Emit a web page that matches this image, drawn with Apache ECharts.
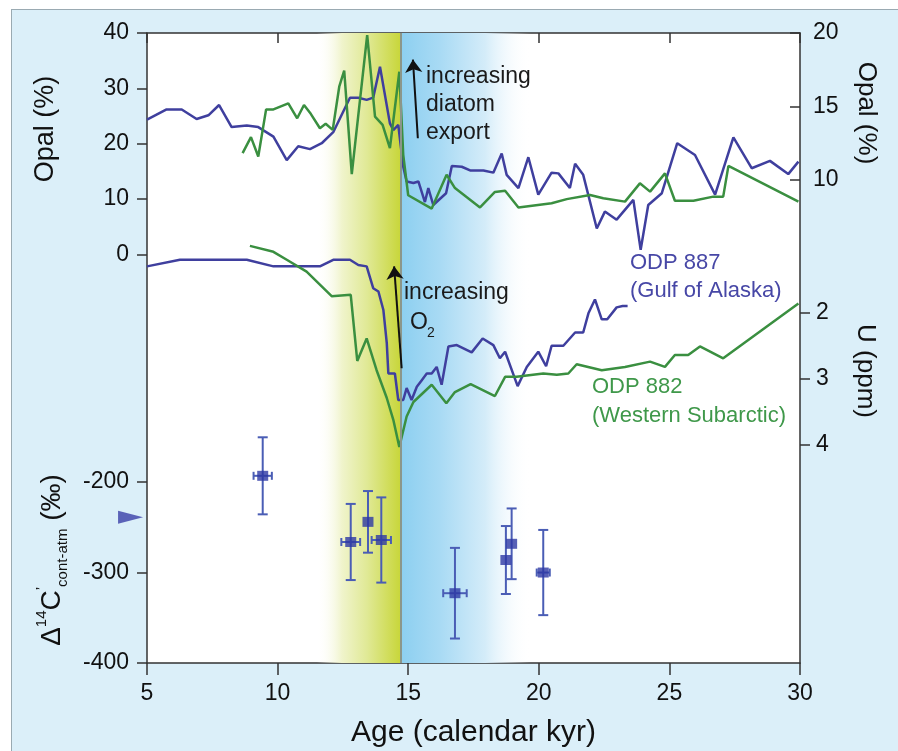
<!DOCTYPE html>
<html>
<head>
<meta charset="utf-8">
<script src="https://cdn.jsdelivr.net/npm/echarts@6/dist/echarts.min.js"></script>
<style>
  body { margin: 0; background: #fff; }
  #wrap { position: relative; width: 898px; height: 751px; overflow: hidden; }
  #bg { position: absolute; left: 11px; top: 9px; width: 900px; height: 760px; background: #dbeff9; border: 1px solid #9aaab2; }
  #chart { position: absolute; left: 0; top: 0; width: 898px; height: 751px; }
</style>
</head>
<body>
<div id="wrap"><div id="bg"></div><div id="chart"></div></div>
<script>
// opal records, [age kyr, opal %]
var opal887 = [[5.0,14.1],[5.75,14.8],[6.33,14.8],[6.9,14.15],[7.35,14.4],[7.76,15.1],[8.24,13.6],[8.82,13.7],[9.26,13.6],[9.84,12.95],[10.35,11.35],[10.79,12.3],[11.24,12.1],[11.69,12.5],[12.13,13.25],[12.77,15.6],[13.09,15.6],[13.41,15.45],[13.66,15.6],[13.92,17.7],[14.3,13.85],[14.43,13.4],[14.62,13.75],[14.81,10.9],[14.94,9.9],[15.2,9.8],[15.39,9.9],[15.64,8.5],[15.77,9.45],[15.96,8.3],[16.45,9.1],[16.67,10.95],[17.05,10.9],[17.37,10.65],[17.88,10.65],[18.26,10.5],[18.58,11.8],[18.77,10.35],[19.22,9.45],[19.6,11.55],[19.98,9.0],[20.49,10.5],[20.75,10.45],[21.19,9.45],[21.39,11.1],[21.7,10.35],[22.22,6.7],[22.53,7.85],[22.98,7.3],[23.62,8.65],[23.9,5.25],[24.19,8.3],[24.71,9.1],[25.3,12.5],[25.98,11.7],[26.75,9.0],[27.45,12.9],[28.15,10.8],[28.85,11.3],[29.55,10.4],[29.94,11.25]];
var opal882 = [[8.66,18.3],[8.98,21.2],[9.26,17.7],[9.56,26.2],[9.84,26.2],[10.41,27.3],[10.75,24.6],[11.01,27.0],[11.27,25.4],[11.62,22.8],[11.84,23.6],[12.11,22.5],[12.36,30.3],[12.55,33.2],[12.84,14.5],[13.43,39.6],[13.73,24.9],[14.02,23.4],[14.3,19.2],[14.66,33.0],[14.81,18.0],[15.0,10.7],[15.9,8.3],[16.47,14.4],[16.79,12.0],[17.75,8.5],[18.32,11.3],[18.71,11.5],[19.22,8.5],[20.49,9.25],[21.07,10.0],[21.96,10.75],[22.47,10.15],[23.3,9.55],[23.87,12.85],[24.26,11.35],[24.83,14.65],[25.21,9.7],[25.92,9.7],[26.68,10.45],[27.06,10.45],[27.26,16.0],[29.94,9.55]];

// uranium records, [age kyr, U ppm]
var u887 = [[5.0,1.3],[6.26,1.2],[8.82,1.2],[9.84,1.3],[11.62,1.3],[12.13,1.2],[12.77,1.2],[13.09,1.28],[13.41,1.3],[13.66,1.63],[13.86,1.68],[14.05,1.96],[14.18,2.46],[14.24,2.92],[14.49,2.92],[14.62,3.32],[14.81,3.32],[14.94,3.14],[15.13,3.32],[15.33,3.12],[15.52,3.02],[15.71,2.92],[15.9,2.92],[16.09,2.82],[16.28,3.09],[16.54,2.51],[16.86,2.49],[17.43,2.6],[17.85,2.39],[18.26,2.49],[18.51,2.69],[18.71,2.59],[19.19,3.11],[19.54,2.82],[19.98,2.59],[20.28,2.81],[20.49,2.5],[20.94,2.5],[21.39,2.3],[21.7,2.3],[21.9,2.01],[22.15,1.8],[22.41,2.1],[22.62,2.1],[22.98,1.92],[23.21,1.9],[23.4,1.9]];
var u882 = [[8.94,0.99],[9.84,1.08],[10.35,1.2],[11.11,1.38],[12.07,1.75],[12.8,1.73],[13.05,2.73],[13.41,2.39],[13.79,2.87],[14.18,3.29],[14.43,3.62],[14.66,4.03],[14.94,3.57],[15.2,3.35],[15.9,3.09],[16.46,3.37],[16.79,3.2],[17.39,3.08],[18.32,3.26],[18.71,2.97],[19.15,2.97],[20.17,2.92],[20.69,2.94],[21.13,2.92],[21.45,2.78],[22.41,2.87],[23.3,2.82],[24.26,2.74],[24.83,2.82],[25.21,2.64],[25.72,2.64],[26.17,2.51],[27.06,2.69],[29.94,1.86]];

// D14C cont-atm points
var d14cAge    = [9.43, 12.8, 13.46, 13.97, 16.79, 18.74, 18.96, 20.17];
var d14cVal    = [-193.5, -266.5, -244.3, -264.3, -323, -286.4, -268.5, -300.2];
var d14cAgeErr = [0.35, 0.36, 0, 0.37, 0.45, 0, 0, 0.25];
var d14cValErr = [42.5, 42, 34, 47, 50, 37.5, 39, 47];
var d14cRef = [[4.37, -239.3]];

// tick labels
var ageTicks = [5, 10, 15, 20, 25, 30];
var opalLeftTicks = [0, 10, 20, 30, 40];
var d14cTicks = [-400, -300, -200];
var opalRightTicks = [10, 15, 20];
var uTicks = [2, 3, 4];

// shaded intervals
var yellowBand = [11.5, 14.7];
var blueBand = [14.7, 19.7];

var FONT = '"Liberation Sans", Arial, sans-serif';
var BLUE = '#3f3f9e', GREEN = '#3a8f40', AXIS = '#333';

var d14cData = d14cAge.map(function (a, i) {
    return [a, d14cVal[i], d14cAgeErr[i], d14cValErr[i]];
});

function yAx(o) {
    var base = {
        type: 'value', gridIndex: 0, splitLine: { show: false },
        axisLine: { show: false, onZero: false, lineStyle: { color: AXIS, width: 1.5 } },
        axisTick: { show: true, length: 10, lineStyle: { color: AXIS, width: 1.5 } },
        axisLabel: { fontSize: 23, color: '#111', fontFamily: FONT }
    };
    o.axisTick = Object.assign({}, base.axisTick, o.axisTick || {});
    o.axisLabel = Object.assign({}, base.axisLabel, o.axisLabel || {});
    o.axisLine = Object.assign({}, base.axisLine, o.axisLine || {});
    return Object.assign(base, o);
}

function txt(o) {
    o.z = 100;
    o.silent = true;
    return o;
}

var arrowLine = {
    silent: true, symbol: ['none', 'arrow'], symbolSize: 13, label: { show: false },
    lineStyle: { color: '#111', width: 2, type: 'solid' },
    itemStyle: { color: '#111' }
};

var chart = echarts.init(document.getElementById('chart'));
var option = {
    animation: false,
    grid: { left: 147, top: 33, width: 653, height: 630, show: true, backgroundColor: '#fff', borderWidth: 0,
        containLabel: false, outerBoundsMode: 'none' },
    xAxis: [{
        type: 'value', min: 5, max: 30, interval: 5, position: 'bottom',
        axisLine: { onZero: false, lineStyle: { color: AXIS, width: 1.5 } },
        axisTick: { length: 12, lineStyle: { color: AXIS, width: 1.5 } },
        axisLabel: { fontSize: 23, color: '#111', margin: 19, fontFamily: FONT,
            customValues: ageTicks },
        splitLine: { show: false },
        name: 'Age (calendar kyr)', nameLocation: 'middle', nameGap: 55,
        nameTextStyle: { fontSize: 30, color: '#111', fontFamily: FONT }
    }, {
        type: 'value', min: 5, max: 30, interval: 5, position: 'top',
        axisLine: { onZero: false, lineStyle: { color: AXIS, width: 1.5 } },
        axisTick: { inside: true, length: 10, lineStyle: { color: AXIS, width: 1.5 } },
        axisLabel: { show: false }, splitLine: { show: false }
    }],
    yAxis: [
        yAx({ min: -73.77, max: 40, position: 'left', axisLine: { show: true },
            axisTick: { customValues: opalLeftTicks }, axisLabel: { customValues: opalLeftTicks, margin: 18 } }),
        yAx({ min: -400, max: 295, position: 'left',
            axisTick: { customValues: d14cTicks }, axisLabel: { customValues: d14cTicks, margin: 18 } }),
        yAx({ min: -22.86, max: 20, position: 'right', axisLine: { show: true },
            axisTick: { inside: true, customValues: opalRightTicks }, axisLabel: { customValues: opalRightTicks, margin: 13 } }),
        yAx({ min: -2.228, max: 7.296, inverse: true, position: 'right',
            axisTick: { customValues: uTicks }, axisLabel: { customValues: uTicks, margin: 16 } })
    ],
    series: [{
        // shading bands
        type: 'line', yAxisIndex: 0, data: [], z: 1, silent: true,
        markArea: {
            silent: true,
            data: [
                [{ xAxis: yellowBand[0], itemStyle: { color: new echarts.graphic.LinearGradient(0, 0, 1, 0, [
                    { offset: 0, color: 'rgba(255,255,255,0)' },
                    { offset: 0.3, color: '#f0f4cc' },
                    { offset: 0.6, color: '#e0e996' },
                    { offset: 1, color: '#c8d63a' }]) } }, { xAxis: yellowBand[1] }],
                [{ xAxis: blueBand[0], itemStyle: { color: new echarts.graphic.LinearGradient(0, 0, 1, 0, [
                    { offset: 0, color: '#8ccff0' },
                    { offset: 0.3, color: '#a8daf4' },
                    { offset: 0.65, color: '#d4ecf9' },
                    { offset: 1, color: 'rgba(255,255,255,0)' }]) } }, { xAxis: blueBand[1] }]
            ]
        },
        markLine: {
            silent: true, symbol: 'none', label: { show: false },
            lineStyle: { color: '#8b968a', width: 2, type: 'solid' },
            data: [{ xAxis: yellowBand[1] }]
        }
    }, {
        name: 'ODP 887 opal', type: 'line', yAxisIndex: 2, data: opal887, z: 3,
        showSymbol: false, lineStyle: { color: BLUE, width: 2.5 }, itemStyle: { color: BLUE }
    }, {
        name: 'ODP 882 opal', type: 'line', yAxisIndex: 0, data: opal882, z: 3,
        showSymbol: false, lineStyle: { color: GREEN, width: 2.5 }, itemStyle: { color: GREEN },
        markLine: Object.assign({}, arrowLine, {
            data: [[{ coord: [15.37, 21.0] }, { coord: [15.18, 35.2] }]]
        })
    }, {
        name: 'ODP 887 U', type: 'line', yAxisIndex: 3, data: u887, z: 3,
        showSymbol: false, lineStyle: { color: BLUE, width: 2.5 }, itemStyle: { color: BLUE }
    }, {
        name: 'ODP 882 U', type: 'line', yAxisIndex: 3, data: u882, z: 3,
        showSymbol: false, lineStyle: { color: GREEN, width: 2.5 }, itemStyle: { color: GREEN },
        markLine: Object.assign({}, arrowLine, {
            data: [[{ coord: [14.75, 2.84] }, { coord: [14.46, 1.3] }]]
        })
    }, {
        // error bars
        type: 'custom', yAxisIndex: 1, data: d14cData, z: 4,
        encode: { x: 0, y: 1 },
        renderItem: function (params, api) {
            var x = api.value(0), y = api.value(1), xe = api.value(2), ye = api.value(3);
            var top = api.coord([x, y + ye]), bot = api.coord([x, y - ye]);
            var st = { stroke: '#4a5db5', lineWidth: 2 };
            var kids = [
                { type: 'line', shape: { x1: top[0], y1: top[1], x2: bot[0], y2: bot[1] }, style: st },
                { type: 'line', shape: { x1: top[0] - 5, y1: top[1], x2: top[0] + 5, y2: top[1] }, style: st },
                { type: 'line', shape: { x1: bot[0] - 5, y1: bot[1], x2: bot[0] + 5, y2: bot[1] }, style: st }
            ];
            if (xe > 0) {
                var l = api.coord([x - xe, y]), r = api.coord([x + xe, y]);
                kids.push({ type: 'line', shape: { x1: l[0], y1: l[1], x2: r[0], y2: r[1] }, style: st });
                kids.push({ type: 'line', shape: { x1: l[0], y1: l[1] - 4, x2: l[0], y2: l[1] + 4 }, style: st });
                kids.push({ type: 'line', shape: { x1: r[0], y1: r[1] - 4, x2: r[0], y2: r[1] + 4 }, style: st });
            }
            return { type: 'group', children: kids };
        }
    }, {
        type: 'scatter', yAxisIndex: 1, data: d14cData, z: 5,
        symbol: 'rect', symbolSize: [11, 10], itemStyle: { color: '#2d38a4' }
    }, {
        // modern reference marker, left of the axis
        type: 'scatter', yAxisIndex: 1, data: d14cRef, clip: false, z: 5,
        symbol: 'triangle', symbolRotate: -90, symbolSize: [13, 25], itemStyle: { color: '#3a3fa8' }
    }],
    graphic: [
        txt({ type: 'text', left: 426, top: 63, style: { text: 'increasing\ndiatom\nexport', font: '23px ' + FONT, fill: '#1a1a1a', lineHeight: 28 } }),
        txt({ type: 'text', x: 404, y: 293, style: { text: 'increasing', font: '23px ' + FONT, fill: '#1a1a1a', verticalAlign: 'middle' } }),
        txt({ type: 'text', x: 410, y: 323, style: { text: 'O', font: '23px ' + FONT, fill: '#1a1a1a', verticalAlign: 'middle' } }),
        txt({ type: 'text', x: 427, y: 333, style: { text: '2', font: '14px ' + FONT, fill: '#1a1a1a', verticalAlign: 'middle' } }),
        txt({ type: 'text', x: 630, y: 277, style: { text: 'ODP 887\n(Gulf of Alaska)', font: '22px ' + FONT, fill: '#4747a6', lineHeight: 28, verticalAlign: 'middle' } }),
        txt({ type: 'text', x: 592, y: 401, style: { text: 'ODP 882\n(Western Subarctic)', font: '22px ' + FONT, fill: '#3f984a', lineHeight: 29, verticalAlign: 'middle' } }),
        txt({ type: 'text', x: 46, y: 129, rotation: Math.PI / 2, style: { text: 'Opal (%)', font: '27px ' + FONT, fill: '#111', align: 'center', verticalAlign: 'middle' } }),
        txt({ type: 'text', x: 866, y: 113, rotation: -Math.PI / 2, style: { text: 'Opal (%)', font: '26px ' + FONT, fill: '#111', align: 'center', verticalAlign: 'middle' } }),
        txt({ type: 'text', x: 865, y: 371, rotation: -Math.PI / 2, style: { text: 'U (ppm)', font: '26px ' + FONT, fill: '#111', align: 'center', verticalAlign: 'middle' } }),
        txt({ type: 'text', x: 52, y: 560, rotation: Math.PI / 2, style: {
            text: '{m|\u0394}{sup|14}{m|C}{sup|\u2019}{sub|cont-atm}{m| (\u2030)}',
            align: 'center', verticalAlign: 'middle', fill: '#111',
            rich: {
                m: { fontSize: 28, fontFamily: FONT, fill: '#111', lineHeight: 36 },
                sup: { fontSize: 15, fontFamily: FONT, fill: '#111', verticalAlign: 'top', lineHeight: 36 },
                sub: { fontSize: 15, fontFamily: FONT, fill: '#111', verticalAlign: 'bottom', lineHeight: 36 }
            }
        } })
    ]
};
chart.setOption(option);
</script>
</body>
</html>
